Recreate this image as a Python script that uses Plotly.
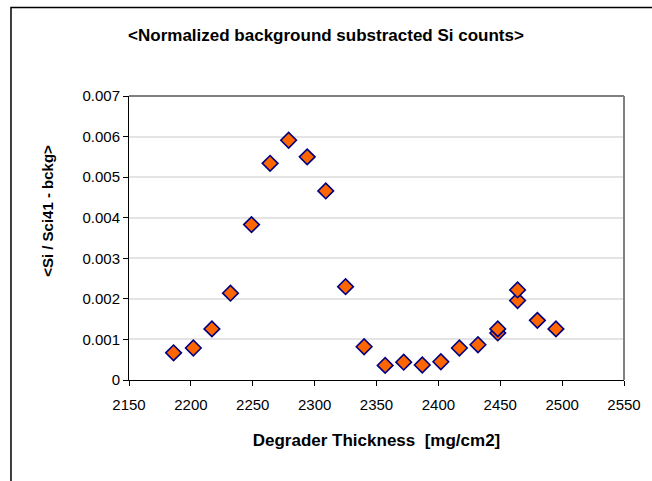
import plotly.graph_objects as go

# Degrader thickness [mg/cm2] and normalized background-subtracted Si counts
thickness = [2186, 2202, 2217, 2232, 2249, 2264, 2279, 2294, 2309, 2325, 2340,
             2357, 2372, 2387, 2402, 2417, 2432, 2448, 2448, 2464, 2464, 2480, 2495]
si_counts = [0.00067, 0.00079, 0.00126, 0.00214, 0.00383, 0.00534, 0.00591,
             0.00550, 0.00466, 0.00230, 0.00082, 0.00036, 0.00044, 0.00037,
             0.00045, 0.00079, 0.00087, 0.00116, 0.00126, 0.00196, 0.00222,
             0.00147, 0.00126]

x_ticks = [2150, 2200, 2250, 2300, 2350, 2400, 2450, 2500, 2550]
y_ticks = [0, 0.001, 0.002, 0.003, 0.004, 0.005, 0.006, 0.007]

font_family = "Liberation Sans, Arial, sans-serif"

fig = go.Figure()
fig.add_trace(go.Scatter(
    x=thickness, y=si_counts, mode="markers",
    marker=dict(symbol="diamond", size=12, color="#FF6600",
                line=dict(color="#000080", width=1.6)),
    cliponaxis=False, showlegend=False,
))

fig.update_layout(
    width=652, height=481,
    margin=dict(l=129, r=28, t=96, b=101),
    paper_bgcolor="white", plot_bgcolor="white",
    font=dict(family=font_family, size=15, color="black"),
    title=dict(text="<b>&lt;Normalized background substracted Si counts&gt;</b>",
               x=0.5, xanchor="center", xref="container", y=0.927, yanchor="middle",
               font=dict(size=17, family=font_family)),
)

fig.update_xaxes(
    range=[2150, 2550], tickvals=x_ticks, ticktext=[str(v) for v in x_ticks],
    showline=True, linecolor="black", linewidth=1,
    ticks="outside", ticklen=5, tickcolor="black",
    showgrid=False, zeroline=False,
    tickfont=dict(size=15), ticklabelstandoff=6,
    title=dict(text="<b>Degrader Thickness  [mg/cm2]</b>",
               font=dict(size=17), standoff=22),
)
fig.update_yaxes(
    range=[0, 0.007], tickvals=y_ticks,
    ticktext=["0" if v == 0 else f"{v:.3f}" for v in y_ticks],
    showline=True, linecolor="black", linewidth=1,
    ticks="outside", ticklen=5, tickcolor="black",
    showgrid=True, gridcolor="#e4e4e4", gridwidth=2,
    zeroline=False, tickfont=dict(size=15),
)

# Y axis title, placed a little above the plot-area centre
fig.add_annotation(
    text="<b>&lt;Si / Sci41 - bckg&gt;</b>", textangle=-90,
    xref="paper", yref="paper", x=-0.166, y=0.595,
    xanchor="center", yanchor="middle", showarrow=False,
    font=dict(size=15, family=font_family),
)

# Gray frame along the top and right of the plot area
fig.add_shape(type="line", xref="paper", yref="paper", x0=0, x1=1, y0=1, y1=1,
              line=dict(color="#808080", width=2))
fig.add_shape(type="line", xref="paper", yref="paper", x0=1, x1=1, y0=0, y1=1,
              line=dict(color="#808080", width=2))

# Outer chart border: left and top edges
fig.add_shape(type="path", xref="paper", yref="paper",
              path="M -0.2384,-0.40 L -0.2384,1.312 L 1.08,1.312",
              line=dict(color="black", width=1.5))

fig.write_html("out.html")
